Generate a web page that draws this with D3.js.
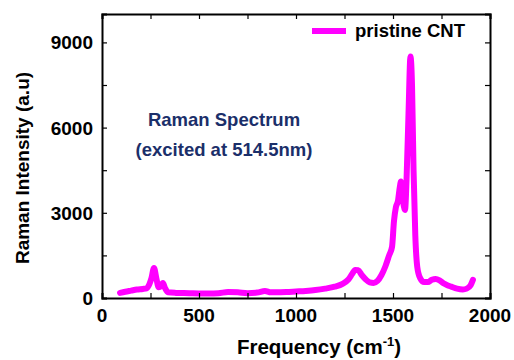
<!DOCTYPE html>
<html><head><meta charset="utf-8">
<script src="https://cdn.jsdelivr.net/npm/d3@7"></script>
<style>body{margin:0;background:#fff}svg{display:block}text{font-family:"Liberation Sans",Arial,sans-serif;font-weight:bold}</style>
</head><body>
<script>
const freq = [93,120,150,180,210,230,245,255,268,280,292,305,314,325,340,380,450,500,550,600,650,700,750,800,840,870,900,950,1000,1050,1100,1150,1200,1240,1270,1290,1305,1320,1340,1360,1380,1400,1420,1440,1460,1480,1495,1505,1515,1525,1535,1541,1550,1562,1570,1580,1590,1598,1606,1615,1625,1640,1660,1680,1700,1720,1740,1760,1780,1800,1830,1860,1880,1900,1912];
const intensity = [180,220,260,300,320,340,500,700,1060,700,380,420,530,350,200,180,170,160,160,170,210,200,170,190,250,200,200,210,230,250,280,330,400,500,650,850,990,980,800,650,550,530,600,800,1100,1500,1800,2700,3200,3400,3900,4100,3500,3100,4200,6500,8500,7500,4500,2200,1100,700,560,560,640,670,620,520,450,400,330,300,330,450,640];
const xTicks = [0,500,1000,1500,2000];
const yTicks = [0,3000,6000,9000];
const seriesName = "pristine CNT";
const annotation = ["Raman Spectrum","(excited at 514.5nm)"];

const W=514,H=360, L=102,R=490,T=14,B=298;
const svg=d3.select("body").append("svg").attr("width",W).attr("height",H);
const x=d3.scaleLinear().domain([0,2000]).range([L,R]);
const y=d3.scaleLinear().domain([0,10000]).range([B,T]);

const data=freq.map((f,i)=>({f,v:intensity[i]}));
svg.append("path").datum(data).attr("fill","none").attr("stroke","#ff00ff").attr("stroke-width",6)
  .attr("stroke-linejoin","round").attr("stroke-linecap","round")
  .attr("d",d3.line().x(d=>x(d.f)).y(d=>y(d.v)).curve(d3.curveMonotoneX));

const minorX=d3.range(0,2001,250), minorY=d3.range(0,10001,1500);
const g=svg.append("g");
g.append("g").attr("transform",`translate(0,${B})`).call(d3.axisBottom(x).tickValues(minorX).tickSize(-5).tickFormat(""));
g.append("g").attr("transform",`translate(0,${T})`).call(d3.axisTop(x).tickValues(minorX).tickSize(-5).tickFormat(""));
g.append("g").attr("transform",`translate(${L},0)`).call(d3.axisLeft(y).tickValues(minorY).tickSize(-5).tickFormat(""));
g.append("g").attr("transform",`translate(${R},0)`).call(d3.axisRight(y).tickValues(minorY).tickSize(-5).tickFormat(""));
g.selectAll(".domain").attr("stroke","#000").attr("stroke-width",2);
g.selectAll(".tick line").attr("stroke","#000").attr("stroke-width",1.2);

svg.selectAll(".xl").data(xTicks).enter().append("text").attr("x",d=>x(d)).attr("y",322)
  .attr("text-anchor","middle").attr("font-size",19).text(d=>d);
svg.selectAll(".yl").data(yTicks).enter().append("text").attr("x",93).attr("y",d=>y(d)+7)
  .attr("text-anchor","end").attr("font-size",19).text(d=>d);

const xt=svg.append("text").attr("x",319).attr("y",354).attr("text-anchor","middle").attr("font-size",20.5);
xt.append("tspan").text("Frequency (cm");
xt.append("tspan").attr("dy",-8).attr("font-size",13).text("-1");
xt.append("tspan").attr("dy",8).text(")");
svg.append("text").attr("transform","translate(29,168) rotate(-90)").attr("text-anchor","middle")
  .attr("font-size",19).text("Raman Intensity (a.u)");

svg.append("line").attr("x1",312).attr("x2",346).attr("y1",31).attr("y2",31).attr("stroke","#ff00ff").attr("stroke-width",6);
svg.append("text").attr("x",355).attr("y",37).attr("font-size",18.5).text(seriesName);

svg.selectAll(".an").data(annotation).enter().append("text").attr("x",224).attr("y",(d,i)=>126+i*30)
  .attr("text-anchor","middle").attr("font-size",18.5).attr("fill","#1b2f6a").text(d=>d);
</script>
</body></html>
